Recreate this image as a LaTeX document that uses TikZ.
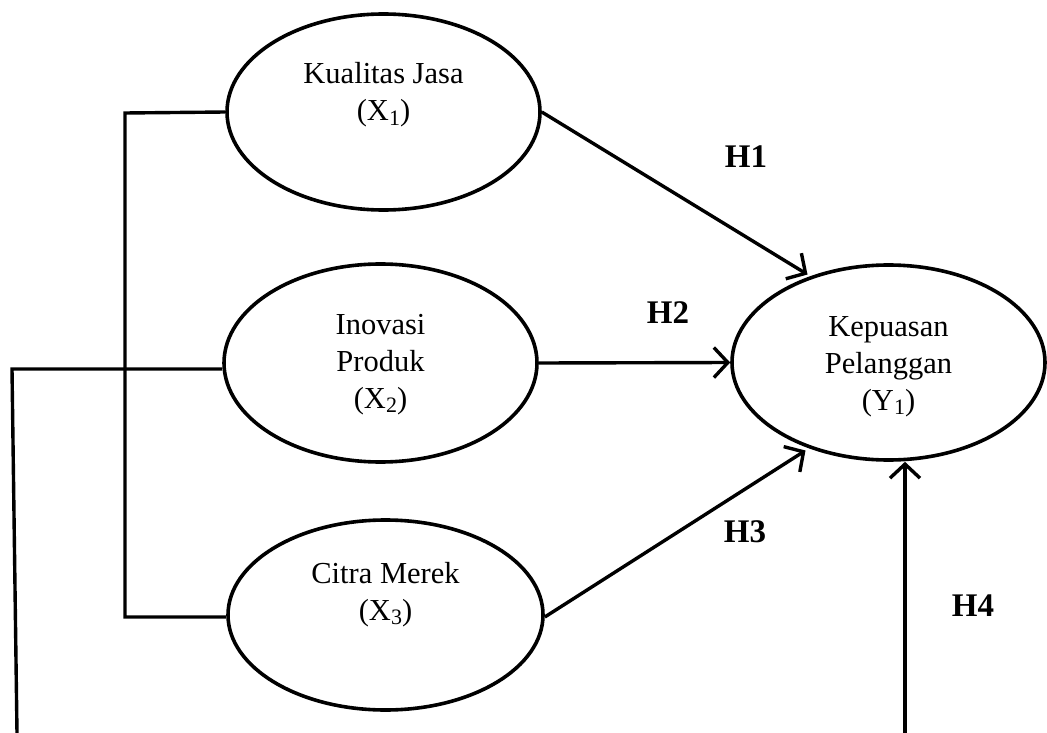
\documentclass[tikz,border=0pt]{standalone}
\usepackage{fontspec}
\setmainfont{Liberation Serif}
\usetikzlibrary{shapes.geometric,arrows.meta,calc}
\newcommand{\sbs}[1]{\raisebox{-0.32ex}{\fontsize{22}{22}\selectfont #1}}
\begin{document}
\begin{tikzpicture}[x=1pt,y=-1pt,
  ell/.style={draw,ellipse,line width=3.6pt,inner sep=0pt},
  txt/.style={align=center,inner sep=0pt,font=\fontsize{30.5}{37}\selectfont},
  hlab/.style={inner sep=0pt,font=\fontsize{33}{40}\selectfont\bfseries},
  conn/.style={line width=3.4pt},
  arr/.style={line width=3.4pt,-{Straight Barb[length=14pt,width=30pt,line width=3.4pt]}}
]
\useasboundingbox (0,0) rectangle (1047,733);
% ellipses
\node[ell,minimum width=313pt,minimum height=196pt] (x1) at (383.5,112) {};
\node[ell,minimum width=313pt,minimum height=198pt] (x2) at (380.5,363) {};
\node[ell,minimum width=315pt,minimum height=190pt] (x3) at (385.5,615) {};
\node[ell,minimum width=313pt,minimum height=195pt] (y1) at (888.5,362.5) {};
% texts
\node[txt] (t1) at (383.5,95) {Kualitas Jasa\\(X\sbs{1})};
\node[txt] (t2) at (380.5,364.5) {Inovasi\\Produk\\(X\sbs{2})};
\node[txt] (t3) at (385.5,594.5) {Citra Merek\\(X\sbs{3})};
\node[txt] (ty) at (888.5,366.5) {Kepuasan\\Pelanggan\\(Y\sbs{1})};
% labels
\node[hlab] (h1) at (746,157) {H1};
\node[hlab] (h2) at (668,313) {H2};
\node[hlab] (h3) at (745,532) {H3};
\node[hlab] (h4) at (973,606) {H4};
% coordinates
\coordinate (b1) at (125,113);
\coordinate (b3) at (125,617);
\coordinate (l1) at (12,369);
\coordinate (l2) at (17,733);
\coordinate (h4s) at (905,733);
% bracket
\draw[conn] (x1.west) -- (b1) -- (b3) -- ($(x3.west)+(0,2)$);
\draw[conn] ($(x2.west)+(0,6)$) -- (l1) -- (l2);
% arrows
\draw[arr] (x1.east) -- ($(y1.center)+(-81,-88)$);
\draw[arr] (x2.east) -- (y1.west);
\draw[arr] ($(x3.east)+(0,2)$) -- ($(y1.center)+(-83,88)$);
\draw[arr] (h4s) -- (y1.south -| h4s);
\end{tikzpicture}
\end{document}
